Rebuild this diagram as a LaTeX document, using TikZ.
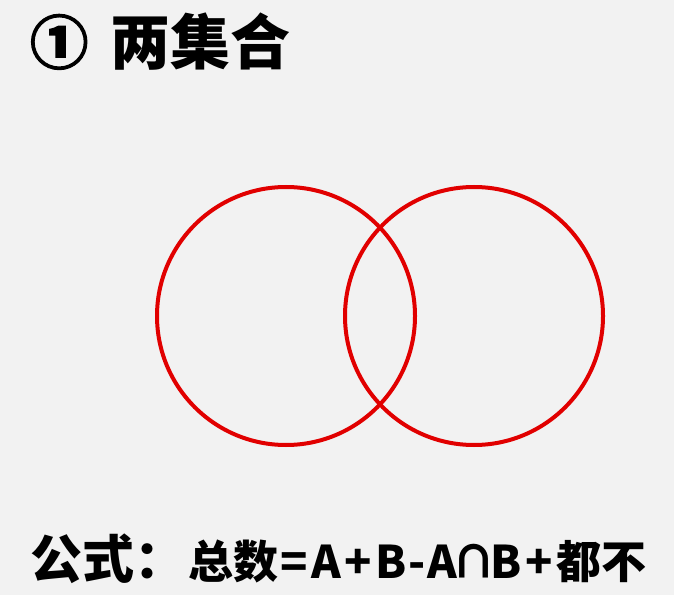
\documentclass[tikz,border=0pt]{standalone}
\usepackage{fontspec}
\newfontfamily\cjk{Noto Sans CJK SC}
\newfontfamily\cjkheavy{Noto Sans CJK SC}[BoldFeatures={FakeBold=2.5}]
\definecolor{bgcol}{RGB}{242,242,242}
\definecolor{vennred}{RGB}{225,0,0}
\begin{document}
\begin{tikzpicture}[x=1pt,y=1pt,
  setcircle/.style={draw=vennred,line width=4pt},
  titletext/.style={font=\cjk\bfseries\fontsize{60}{60}\selectfont,inner sep=0pt,anchor=base west},
  numtext/.style={font=\cjkheavy\bfseries\fontsize{58}{58}\selectfont,inner sep=0pt,anchor=base west},
  formulalabel/.style={font=\cjk\bfseries\fontsize{52}{52}\selectfont,inner sep=0pt,anchor=base west},
  formulatext/.style={font=\cjk\bfseries\fontsize{45}{45}\selectfont,inner sep=0pt,anchor=base west}]
\fill[bgcol] (0,0) rectangle (674,595);
\useasboundingbox (0,0) rectangle (674,595);
% title
\node[numtext] (num) at (30,531) {①};
\node[titletext] (title) at (110,530) {两集合};
% circles
\node[setcircle,circle,minimum size=258pt,inner sep=0pt] (A) at (286,279) {};
\node[setcircle,circle,minimum size=258pt,inner sep=0pt] (B) at (474,279) {};
% formula
\node[formulalabel] (flabel) at (30,17) {公式：};
\node[formulatext] (formula) at (188,17) {总数\kern2pt=\kern3.5ptA\kern3.5pt+\kern3.5ptB\kern2pt-\kern2ptA\kern-6pt∩\kern-6ptB\kern3.5pt+\kern3.5pt都不};
\end{tikzpicture}
\end{document}
